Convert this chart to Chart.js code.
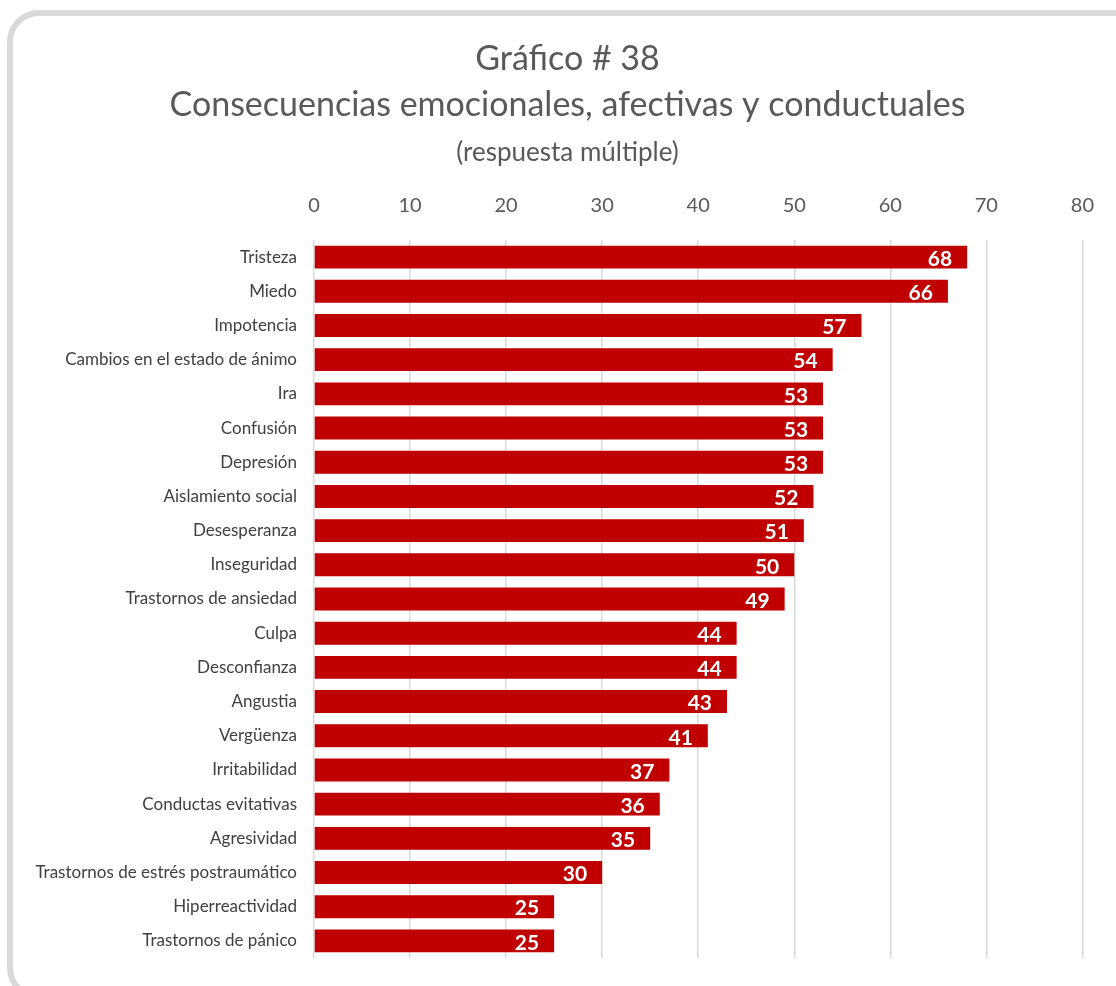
<!DOCTYPE html>
<html>
<head>
<meta charset="utf-8">
<script src="https://cdn.jsdelivr.net/npm/chart.js@4.4.1/dist/chart.umd.min.js"></script>
<style>
  html, body { margin: 0; padding: 0; background: #fff; overflow: hidden; }
  #frame {
    position: absolute; left: 7px; top: 10px; width: 1150px; height: 990px;
    border: 6px solid #d9d9d9; border-radius: 32px; box-sizing: border-box;
  }
  #wrap { position: absolute; left: 0; top: 0; width: 1116px; height: 986px; }
</style>
</head>
<body>
<div id="frame"></div>
<div id="wrap"><canvas id="chart"></canvas></div>
<script>
const categories = [
  "Tristeza", "Miedo", "Impotencia", "Cambios en el estado de ánimo", "Ira",
  "Confusión", "Depresión", "Aislamiento social", "Desesperanza", "Inseguridad",
  "Trastornos de ansiedad", "Culpa", "Desconfianza", "Angustia", "Vergüenza",
  "Irritabilidad", "Conductas evitativas", "Agresividad",
  "Trastornos de estrés postraumático", "Hiperreactividad", "Trastornos de pánico"
];
const values = [68, 66, 57, 54, 53, 53, 53, 52, 51, 50, 49, 44, 44, 43, 41, 37, 36, 35, 30, 25, 25];
const tickValues = [0, 10, 20, 30, 40, 50, 60, 70, 80];

const titleLines = ["Gráfico # 38", "Consecuencias emocionales, afectivas y conductuales"];
const subtitleText = "(respuesta múltiple)";

const FONT = "Lato, 'Open Sans', sans-serif";

// white numbers at the end of each bar
const barLabels = {
  id: "barLabels",
  afterDatasetsDraw(chart) {
    const ctx = chart.ctx;
    const meta = chart.getDatasetMeta(0);
    ctx.save();
    ctx.fillStyle = "#ffffff";
    ctx.font = "bold 21px " + FONT;
    ctx.textAlign = "right";
    ctx.textBaseline = "middle";
    meta.data.forEach((bar, i) => {
      ctx.fillText(String(values[i]), bar.x - 15, bar.y + 2);
    });
    ctx.restore();
  }
};

// title is centred on the whole frame, not on the padded box
const shiftTitles = {
  id: "shiftTitles",
  afterLayout(chart) {
    chart.boxes.forEach(b => {
      if (b.fullSize && b.options && b.options.text !== undefined) {
        b.left += 16;
        b.right += 16;
      }
    });
  }
};

new Chart(document.getElementById("chart"), {
  type: "bar",
  data: {
    labels: categories,
    datasets: [{
      data: values,
      backgroundColor: "#c00000",
      barPercentage: 0.67,
      categoryPercentage: 1
    }]
  },
  options: {
    indexAxis: "y",
    responsive: true,
    maintainAspectRatio: false,
    animation: false,
    layout: { padding: { left: 20, right: 33, top: 36, bottom: 28 } },
    plugins: {
      legend: { display: false },
      tooltip: { enabled: false },
      title: {
        display: true,
        text: titleLines,
        color: "#595959",
        font: { family: FONT, size: 34, weight: "normal", lineHeight: 1.35 },
        padding: { top: 0, bottom: 0 }
      },
      subtitle: {
        display: true,
        text: subtitleText,
        color: "#595959",
        font: { family: FONT, size: 26, weight: "normal", lineHeight: 1.2 },
        padding: { top: 9, bottom: 4 }
      }
    },
    scales: {
      x: {
        position: "top",
        min: 0,
        max: 80,
        afterBuildTicks: s => { s.ticks = tickValues.map(v => ({ value: v })); },
        grid: { color: "#d9d9d9", lineWidth: 1.5, drawTicks: false },
        border: { display: false },
        ticks: { color: "#595959", font: { family: FONT, size: 20 }, padding: 22 }
      },
      y: {
        afterFit: s => { s.width = 294; },
        grid: { display: false, drawTicks: false },
        border: { display: false },
        ticks: { color: "#404040", font: { family: FONT, size: 17 }, padding: 17, autoSkip: false }
      }
    }
  },
  plugins: [barLabels, shiftTitles]
});
</script>
</body>
</html>
